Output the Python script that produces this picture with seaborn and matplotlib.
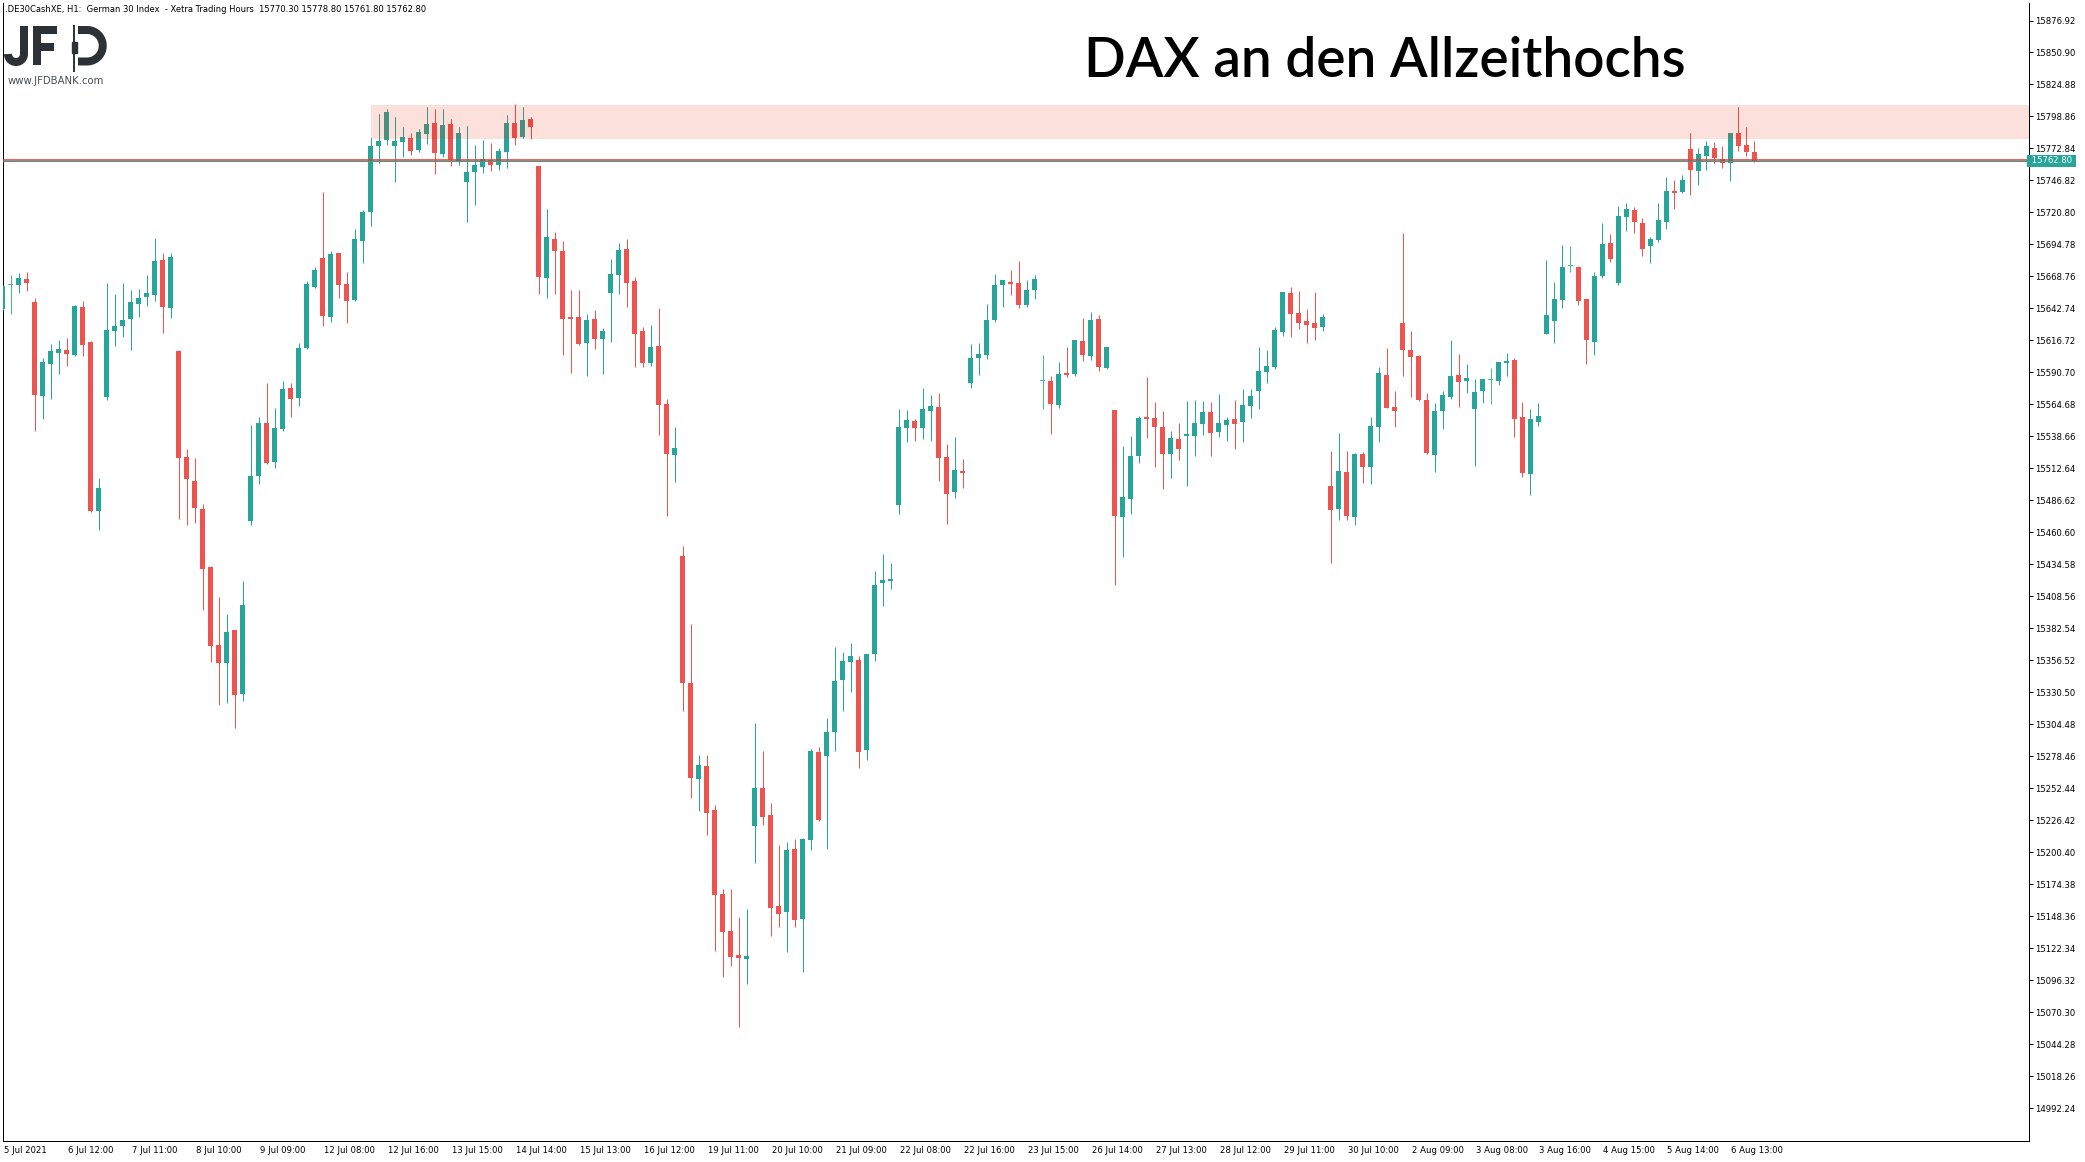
import matplotlib
matplotlib.use("Agg")
import matplotlib.pyplot as plt
import matplotlib.transforms as mtransforms
from matplotlib.patches import Rectangle
import numpy as np
import pandas as pd
import seaborn as sns

# ---------------- data (H1 candles, .DE30CashXE) ----------------
opens = [15642.3,15661.8,15661.8,15666.7,15648.0,15571.6,15597.6,15606.5,15609.0,15604.9,
15643.9,15615.5,15478.1,15570.8,15624.4,15628.5,15634.2,15646.4,15652.1,15653.7,
15682.1,15643.1,15608.2,15522.0,15502.5,15479.7,15432.5,15369.1,15354.5,15381.3,
15329.3,15469.9,15506.5,15549.6,15517.9,15544.7,15578.1,15569.9,15610.6,15660.2,
15683.8,15635.8,15687.8,15662.6,15649.6,15697.6,15721.2,15774.8,15779.7,15774.8,
15778.1,15781.4,15771.6,15784.6,15793.5,15768.4,15792.7,15762.7,15745.6,15753.7,
15757.8,15763.5,15759.4,15770.0,15793.5,15782.2,15796.8,15758.6,15667.6,15699.3,
15689.5,15635.8,15635.8,15614.7,15634.2,15618.0,15655.4,15670.0,15691.1,15665.1,
15624.5,15598.4,15612.3,15565.1,15523.6,15441.8,15338.5,15260.2,15270.8,15235.0,
15166.7,15136.6,15117.1,15113.8,15222.0,15252.9,15230.9,15156.9,15152.0,15203.3,
15146.4,15210.6,15282.1,15278.9,15298.4,15340.7,15355.3,15357.0,15283.8,15361.8,
15419.6,15421.2,15483.0,15545.6,15551.3,15545.6,15559.4,15562.6,15522.0,15493.5,
15510.6,15582.2,15602.5,15604.9,15633.4,15661.8,15664.3,15663.5,15645.6,15657.8,
15583.5,15583.8,15564.3,15590.3,15589.5,15616.3,15604.1,15634.2,15594.4,15560.2,
15473.2,15487.8,15522.8,15554.5,15553.7,15546.4,15524.4,15536.6,15539.1,15539.1,
15548.8,15558.6,15542.3,15548.0,15552.9,15550.4,15563.5,15575.6,15591.1,15595.2,
15623.6,15655.3,15639.1,15632.6,15630.9,15627.7,15498.4,15479.7,15509.8,15473.2,
15524.4,15513.9,15546.4,15588.7,15562.6,15630.9,15609.0,15604.1,15568.3,15523.6,
15559.4,15570.8,15588.7,15583.8,15561.0,15575.6,15584.6,15583.8,15598.4,15600.9,
15554.5,15508.2,15550.4,15622.0,15632.6,15649.6,15677.0,15676.5,15650.5,15615.5,
15669.2,15696.0,15663.5,15717.1,15722.8,15712.2,15693.6,15698.4,15713.1,15738.3,
15737.5,15772.4,15754.5,15766.7,15773.2,15764.3,15761.0,15785.4,15775.6,15770.3]

highs = [15661.8,15670.2,15671.9,15672.4,15651.3,15602.5,15613.8,15617.1,15618.7,15645.6,
15648.8,15616.0,15504.9,15663.4,15654.5,15663.4,15657.8,15658.6,15670.0,15700.0,
15687.8,15687.8,15609.0,15528.5,15521.2,15483.8,15433.4,15408.1,15394.3,15381.5,
15421.1,15548.0,15554.5,15582.1,15561.8,15583.8,15582.1,15614.7,15665.1,15676.5,
15737.5,15689.5,15688.0,15672.4,15707.4,15722.8,15781.4,15800.9,15804.9,15798.4,
15790.3,15785.4,15788.7,15806.6,15804.9,15804.9,15796.8,15790.3,15791.1,15775.6,
15779.7,15777.3,15773.2,15800.1,15809.0,15806.6,15798.4,15759.0,15723.7,15705.0,
15697.6,15657.8,15657.8,15638.3,15641.5,15626.9,15683.0,15696.0,15699.3,15668.4,
15627.7,15629.3,15643.2,15569.2,15546.4,15449.6,15386.5,15279.7,15279.7,15239.1,
15170.8,15170.8,15148.0,15154.5,15305.7,15283.0,15240.7,15206.5,15209.0,15211.4,
15212.2,15284.6,15286.2,15309.8,15367.5,15363.5,15370.8,15360.2,15362.0,15429.3,
15443.1,15435.8,15561.0,15560.2,15552.9,15578.1,15572.4,15574.0,15532.6,15538.2,
15520.4,15613.9,15614.7,15646.4,15670.8,15666.2,15674.0,15681.4,15665.9,15670.0,
15604.9,15587.9,15599.2,15611.4,15617.4,15635.0,15639.9,15637.5,15611.7,15560.5,
15530.9,15539.1,15555.3,15587.0,15566.7,15559.4,15543.1,15549.6,15567.5,15568.3,
15567.5,15566.7,15573.2,15554.5,15568.3,15577.3,15577.3,15611.4,15609.0,15627.7,
15656.4,15660.2,15657.0,15642.3,15656.1,15638.3,15526.9,15541.5,15526.9,15525.2,
15526.1,15554.5,15595.2,15610.6,15575.6,15704.1,15624.4,15604.9,15574.0,15565.9,
15575.6,15617.1,15605.7,15597.6,15585.4,15585.7,15594.4,15599.5,15606.5,15602.5,
15566.7,15561.0,15565.9,15682.2,15664.3,15694.4,15693.6,15677.3,15650.8,15672.4,
15712.2,15703.3,15726.1,15728.5,15725.3,15716.3,15700.9,15728.5,15749.7,15747.2,
15751.3,15785.4,15773.2,15778.9,15778.1,15774.8,15785.7,15806.6,15790.3,15778.8]

lows = [15641.5,15638.3,15655.6,15656.9,15543.1,15552.9,15569.1,15589.4,15596.0,15604.5,
15604.1,15477.3,15462.6,15568.3,15612.2,15619.5,15609.0,15635.8,15644.8,15648.8,
15622.8,15635.0,15471.6,15466.7,15468.3,15397.6,15355.3,15320.3,15321.9,15301.6,
15323.6,15466.7,15500.0,15516.5,15513.0,15543.1,15554.5,15563.4,15609.8,15659.4,
15628.5,15631.7,15651.3,15630.9,15649.2,15679.7,15709.8,15761.0,15775.6,15745.6,
15765.9,15767.5,15770.0,15776.5,15752.1,15765.9,15758.6,15759.4,15713.1,15726.9,
15752.9,15754.5,15755.3,15757.0,15775.6,15781.0,15780.5,15654.6,15651.3,15654.6,
15604.9,15590.3,15613.1,15587.9,15609.8,15589.5,15615.5,15654.6,15644.0,15595.2,
15595.2,15596.0,15539.9,15474.0,15501.7,15315.8,15245.0,15234.2,15214.7,15120.3,
15099.2,15108.2,15058.5,15093.5,15191.9,15222.8,15132.5,15139.9,15119.5,15139.9,
15103.3,15202.5,15226.0,15203.3,15283.0,15315.5,15331.0,15269.1,15275.6,15356.1,
15400.9,15414.7,15475.6,15534.2,15535.0,15536.6,15535.0,15502.5,15467.5,15488.6,
15496.8,15578.1,15588.7,15601.7,15631.8,15644.0,15653.7,15643.1,15644.0,15650.5,
15561.0,15540.7,15561.8,15587.0,15587.9,15600.1,15600.9,15591.9,15593.5,15417.9,
15440.7,15475.6,15517.1,15537.4,15513.9,15495.9,15504.9,15519.5,15498.4,15522.8,
15539.9,15522.8,15538.2,15535.0,15528.5,15534.2,15553.7,15561.0,15582.2,15593.5,
15620.4,15619.6,15626.0,15614.7,15617.1,15624.4,15435.8,15470.8,15470.8,15466.7,
15500.9,15500.0,15534.2,15561.5,15546.4,15587.9,15570.8,15567.5,15524.4,15509.8,
15544.7,15569.1,15562.6,15574.0,15514.7,15565.9,15565.1,15580.5,15587.8,15538.2,
15505.7,15491.1,15547.2,15621.7,15614.7,15643.1,15672.4,15645.6,15597.6,15604.9,
15667.5,15680.5,15661.8,15705.7,15704.1,15685.4,15679.7,15696.8,15707.4,15723.6,
15736.6,15735.0,15743.2,15755.3,15761.0,15757.0,15746.4,15770.8,15766.7,15761.8]

closes = [15661.0,15661.8,15667.5,15663.7,15572.4,15599.2,15608.2,15609.8,15605.7,15644.8,
15613.0,15478.1,15496.8,15625.2,15628.5,15633.4,15648.0,15651.3,15655.3,15681.3,
15643.9,15684.6,15521.2,15504.1,15480.5,15430.9,15368.3,15354.5,15379.7,15328.4,
15401.6,15506.5,15549.6,15517.1,15545.6,15577.3,15569.1,15610.6,15662.6,15674.0,
15636.6,15687.0,15661.8,15648.8,15699.2,15721.2,15774.8,15778.9,15802.5,15778.9,
15782.2,15770.8,15786.2,15792.7,15769.2,15791.9,15763.5,15785.4,15753.7,15759.4,
15764.3,15759.4,15770.8,15793.5,15781.4,15796.0,15790.3,15668.4,15700.9,15689.5,
15634.2,15634.2,15613.9,15633.4,15618.0,15624.5,15670.8,15690.3,15663.5,15622.0,
15598.4,15611.5,15564.3,15524.4,15529.3,15338.5,15261.0,15271.6,15232.6,15165.9,
15135.8,15115.5,15114.7,15116.3,15252.9,15229.3,15155.3,15150.4,15202.5,15145.5,
15211.4,15283.0,15226.8,15298.4,15339.9,15356.1,15360.2,15282.1,15361.8,15417.9,
15422.0,15422.8,15546.4,15552.1,15545.6,15561.0,15563.5,15521.2,15491.9,15511.4,
15509.0,15602.5,15605.7,15633.4,15661.8,15665.9,15662.7,15645.6,15657.8,15666.7,
15583.5,15565.1,15589.5,15588.7,15617.1,15604.9,15633.4,15595.2,15611.4,15474.0,
15489.5,15522.8,15553.7,15552.9,15546.4,15524.4,15537.4,15528.5,15540.7,15549.6,
15558.6,15541.5,15549.6,15552.1,15548.8,15564.3,15571.6,15591.9,15596.0,15625.2,
15656.1,15638.3,15630.9,15629.3,15626.9,15635.8,15478.9,15510.6,15474.0,15524.4,
15513.9,15547.2,15590.3,15561.8,15559.4,15609.0,15603.3,15568.3,15525.2,15559.4,
15572.4,15587.8,15583.0,15586.2,15574.8,15585.4,15584.6,15599.2,15600.0,15552.9,
15509.0,15552.9,15555.3,15637.4,15650.5,15676.5,15677.0,15648.8,15617.1,15669.2,
15695.2,15683.0,15717.9,15723.6,15713.1,15691.1,15699.2,15714.7,15738.3,15736.6,
15747.2,15755.3,15768.4,15774.8,15765.1,15761.0,15785.4,15774.8,15770.0,15762.8]

x_labels = ["5 Jul 2021", "6 Jul 12:00", "7 Jul 11:00", "8 Jul 10:00", "9 Jul 09:00",
            "12 Jul 08:00", "12 Jul 16:00", "13 Jul 15:00", "14 Jul 14:00", "15 Jul 13:00",
            "16 Jul 12:00", "19 Jul 11:00", "20 Jul 10:00", "21 Jul 09:00", "22 Jul 08:00",
            "22 Jul 16:00", "23 Jul 15:00", "26 Jul 14:00", "27 Jul 13:00", "28 Jul 12:00",
            "29 Jul 11:00", "30 Jul 10:00", "2 Aug 09:00", "3 Aug 08:00", "3 Aug 16:00",
            "4 Aug 15:00", "5 Aug 14:00", "6 Aug 13:00"]
y_ticks = [15876.92, 15850.90, 15824.88, 15798.86, 15772.84, 15746.82, 15720.80, 15694.78,
           15668.76, 15642.74, 15616.72, 15590.70, 15564.68, 15538.66, 15512.64, 15486.62,
           15460.60, 15434.58, 15408.56, 15382.54, 15356.52, 15330.50, 15304.48, 15278.46,
           15252.44, 15226.42, 15200.40, 15174.38, 15148.36, 15122.34, 15096.32, 15070.30,
           15044.28, 15018.26, 14992.24]
zone_low, zone_high = 15780.8, 15808.2
last_price = 15762.80
resistance_line = 15763.8
header = (".DE30CashXE, H1:  German 30 Index  - Xetra Trading Hours  "
          "15770.30 15778.80 15761.80 15762.80")
title = "DAX an den Allzeithochs"

# ---------------- styling ----------------
sns.set_style("white")
plt.rcParams["font.family"] = ["DejaVu Sans"]

W, H = 2085, 1162
fig = plt.figure(figsize=(W / 100, H / 100), dpi=100)
fig.patch.set_facecolor("white")

ax_l, ax_r, ax_t, ax_b = 3, 2029, 3, 1140.5
ax = fig.add_axes([ax_l / W, 1 - ax_b / H, (ax_r - ax_l) / W, (ax_b - ax_t) / H])
ax.set_facecolor("white")

df = pd.DataFrame({"open": opens, "high": highs, "low": lows, "close": closes})
df["x"] = np.arange(len(df))

UP, DN, DOJI = "#26a69a", "#ef5350", "#4dbb84"
UP_Z, DN_Z, DOJI_Z = "#48907f", "#ea4a42", "#4a9a78"

def colours(up, dn, doji):
    c = []
    for o, cl in zip(df["open"], df["close"]):
        if cl > o:
            c.append(up)
        elif cl < o:
            c.append(dn)
        else:
            c.append(doji)
    return c

body_bottom = np.minimum(df["open"], df["close"])
body_h = np.maximum(np.abs(df["close"] - df["open"]), 0.85)
px = 0.72  # 1 pixel in points

def draw_candles(cols, clip=None, z=3):
    lc = ax.vlines(df["x"], df["low"], df["high"], colors=cols, linewidth=px, zorder=z)
    bars = ax.bar(df["x"], body_h, bottom=body_bottom, width=0.625, color=cols,
                  linewidth=0, zorder=z + 0.5)
    if clip is not None:
        lc.set_clip_path(clip)
        for b in bars:
            b.set_clip_path(clip)

# zone rectangle (background)
zone_x0 = 45.96
zone = Rectangle((zone_x0, zone_low), 400, zone_high - zone_low,
                 facecolor="#fbe0dc", edgecolor="none", zorder=1)
ax.add_patch(zone)

draw_candles(colours(UP, DN, DOJI))
clip_rect = Rectangle((zone_x0, zone_low), 400, zone_high - zone_low,
                      transform=ax.transData, facecolor="none", edgecolor="none")
draw_candles(colours(UP_Z, DN_Z, DOJI_Z), clip=clip_rect, z=5)

ax.axhline(last_price, color=UP, linewidth=px, zorder=6)
ax.axhline(resistance_line, color="#e8392e", linewidth=1.1, zorder=7)

ax.set_xlim(0.084, 0.084 + (ax_r - ax_l) / 8)
ax.set_ylim(14966.21, 15891.15)

# axes frame
ax.spines["top"].set_visible(False)
for s in ["left", "right", "bottom"]:
    ax.spines[s].set_color("black")
    ax.spines[s].set_linewidth(px)

ax.yaxis.tick_right()
ax.set_yticks(y_ticks)
ax.set_yticklabels([f"{v:.2f}" for v in y_ticks])
ax.tick_params(axis="y", direction="out", length=3, width=px, pad=1.5,
               labelsize=6.1, colors="black")

xt = [8 * i for i in range(len(x_labels))]
ax.set_xticks(xt)
ax.set_xticklabels(x_labels, ha="left")
ax.tick_params(axis="x", direction="out", length=2.5, width=px, pad=1.2,
               labelsize=6.1, colors="black")
offset = mtransforms.ScaledTranslation(1 / 100, 0, fig.dpi_scale_trans)
for lab in ax.get_xticklabels():
    lab.set_transform(lab.get_transform() + offset)

# current price box on the axis
trans = mtransforms.blended_transform_factory(ax.transAxes, ax.transData)
ax.text(1.0, last_price, " 15762.80 ", transform=trans, ha="left", va="center",
        fontsize=6.1, color="white", zorder=10, clip_on=False,
        bbox=dict(boxstyle="square,pad=0.18", facecolor=UP, edgecolor="none"))

# header text
fig.text(5 / W, 1 - 9 / H, header, fontsize=6.0, ha="left", va="center", color="black")

# JFD logo (drawn from strokes, pixel coordinates measured from the top-left)
logo_c = "#2c3136"
def P(pts):
    pts = np.asarray(pts, dtype=float)
    return pts[:, 0] / W, 1 - pts[:, 1] / H

stroke = 8 * 0.72
def logo_line(pts, lw=stroke):
    xs, ys = P(pts)
    fig.add_artist(plt.Line2D(xs, ys, color=logo_c, linewidth=lw,
                              solid_capstyle="butt", solid_joinstyle="miter",
                              transform=fig.transFigure))

# J
ang = np.linspace(0, np.pi, 30)
j_arc = np.column_stack([16 + 8 * np.cos(ang), 54 + 8 * np.sin(ang)])
logo_line(np.vstack([[[24, 26], [24, 54]], j_arc]))
# F
logo_line([[37, 26], [37, 65]])
logo_line([[33, 30], [57, 30]])
logo_line([[33, 47], [54, 47]])
# D bowl
ang = np.linspace(-np.pi / 2, np.pi / 2, 40)
d_arc = np.column_stack([87 + 15.75 * np.cos(ang), 45.75 + 15.75 * np.sin(ang)])
logo_line(np.vstack([[[78, 30]], d_arc, [[78, 61.5]]]))
# candle stem
logo_line([[74, 25], [74, 72]], lw=1.4)
xs, ys = P([[71.5, 53]])
fig.add_artist(Rectangle((xs[0], ys[0]), 5 / W, 11 / H, color=logo_c,
                         transform=fig.transFigure))
fig.text(8 / W, 1 - 81 / H, "www.JFDBANK.com", fontsize=7.3, color="#4a4f55",
         ha="left", va="center")

# title
t = fig.text(1084 / W, 1 - 77 / H, title, fontsize=40, family=["Lato", "DejaVu Sans"],
             fontweight="semibold", color="black", ha="left", va="baseline")
fig.canvas.draw()
w = t.get_window_extent().width
t.set_fontsize(40 * 601 / w)

fig.savefig("out.png", dpi=100, facecolor="white")
